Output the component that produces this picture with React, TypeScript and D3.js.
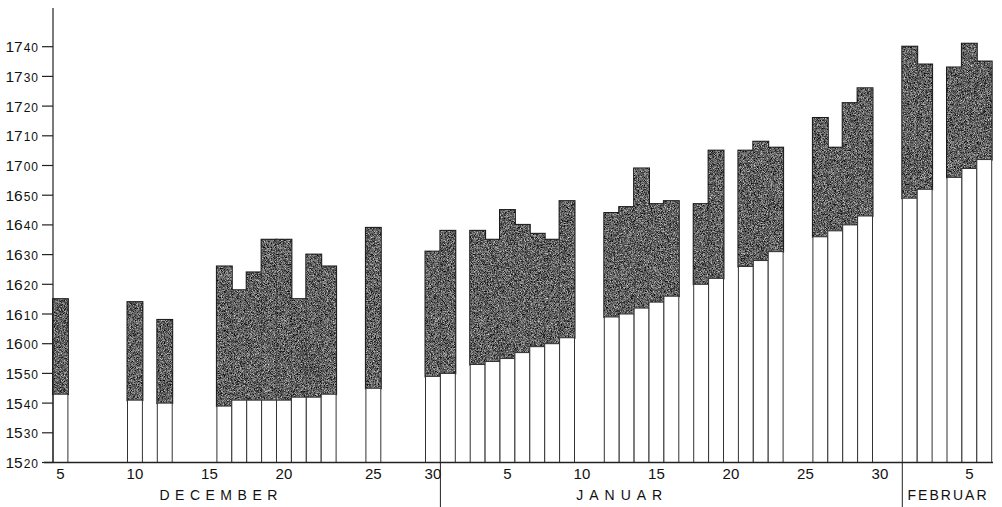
import React, { useEffect, useRef } from 'react';
import * as d3 from 'd3';

// slot 0 = 5 December, one slot per day as drawn in the original
const dayIndex = [0, 5, 7, 11, 12, 13, 14, 15, 16, 17, 18, 21, 25, 26, 28, 29, 30, 31, 32, 33, 34, 37, 38, 39, 40, 41, 43, 44, 46, 47, 48, 51, 52, 53, 54, 57, 58, 60, 61, 62];

const lowerTime = ['15:43', '15:41', '15:40', '15:39', '15:41', '15:41', '15:41', '15:41', '15:42', '15:42', '15:43', '15:45', '15:49', '15:50', '15:53', '15:54', '15:55', '15:57', '15:59', '16:00', '16:02', '16:09', '16:10', '16:12', '16:14', '16:16', '16:20', '16:22', '16:26', '16:28', '16:31', '16:36', '16:38', '16:40', '16:43', '16:49', '16:52', '16:56', '16:59', '17:02'];

const upperTime = ['16:15', '16:14', '16:08', '16:26', '16:18', '16:24', '16:35', '16:35', '16:15', '16:30', '16:26', '16:39', '16:31', '16:38', '16:38', '16:35', '16:45', '16:40', '16:37', '16:35', '16:48', '16:44', '16:46', '16:59', '16:47', '16:48', '16:47', '17:05', '17:05', '17:08', '17:06', '17:16', '17:06', '17:21', '17:26', '17:40', '17:34', '17:33', '17:41', '17:35'];

const yTicks = ['15:20', '15:30', '15:40', '15:50', '16:00', '16:10', '16:20', '16:30', '16:40', '16:50', '17:00', '17:10', '17:20', '17:30', '17:40'];

const dayTickLabels = ['5', '10', '15', '20', '25', '30', '5', '10', '15', '20', '25', '30', '5'];
const dayTickSlots = [0, 5, 10, 15, 21, 25, 30, 35, 40, 45, 50, 55, 61];

const monthLabels = ['DECEMBER', 'JANUAR', 'FEBRUAR'];
const monthCenters = [11.1, 38.0, 60.0];
const monthBreaks = [26, 57];

const toMin = (t: string) => {
  const [h, m] = t.split(':').map(Number);
  return h * 60 + m;
};

const App: React.FC = () => {
  const svgRef = useRef<SVGSVGElement>(null);
  const width = 1002;
  const height = 507;

  useEffect(() => {
    if (!svgRef.current) return;
    const svg = d3.select(svgRef.current);
    svg.selectAll('*').remove();

    const x = d3.scaleLinear().domain([0, 63]).range([53, 991.7]);
    const y = d3.scaleLinear().domain([toMin('15:20'), toMin('17:40')]).range([462.5, 46.7]);
    const w = x(1) - x(0);

    const bars = dayIndex.map((d, i) => ({ d, lo: toMin(lowerTime[i]), hi: toMin(upperTime[i]) }));

    // grainy gray fill for the dark part (printed stipple)
    const defs = svg.append('defs');
    const f = defs.append('filter').attr('id', 'grain')
      .attr('filterUnits', 'userSpaceOnUse')
      .attr('color-interpolation-filters', 'sRGB')
      .attr('x', 0).attr('y', 0).attr('width', width).attr('height', height);
    f.append('feTurbulence').attr('type', 'fractalNoise').attr('baseFrequency', 1.3)
      .attr('numOctaves', 2).attr('seed', 5).attr('result', 'noise');
    f.append('feColorMatrix').attr('in', 'noise').attr('type', 'matrix')
      .attr('values', '1.3 0 0 0 -0.27  1.3 0 0 0 -0.27  1.3 0 0 0 -0.27  0 0 0 0 1').attr('result', 'gray');
    f.append('feComposite').attr('in', 'gray').attr('in2', 'SourceGraphic').attr('operator', 'in');

    // dark outline (outer half stays visible), then fill on top
    svg.append('g').selectAll('rect').data(bars).enter().append('rect')
      .attr('x', d => x(d.d)).attr('width', w)
      .attr('y', d => y(d.hi)).attr('height', d => y(d.lo) - y(d.hi))
      .attr('fill', '#222').attr('stroke', '#1a1a1a').attr('stroke-width', 2);

    svg.append('g').attr('filter', 'url(#grain)').selectAll('rect').data(bars).enter().append('rect')
      .attr('x', d => x(d.d)).attr('width', w)
      .attr('y', d => y(d.hi)).attr('height', d => y(d.lo) - y(d.hi))
      .attr('fill', '#555');

    // white part
    svg.append('g').selectAll('rect').data(bars).enter().append('rect')
      .attr('x', d => x(d.d)).attr('width', w)
      .attr('y', d => y(d.lo)).attr('height', d => y(toMin('15:20')) - y(d.lo))
      .attr('fill', '#fff').attr('stroke', '#333').attr('stroke-width', 1);

    // axes
    const y0 = y(toMin('15:20'));
    svg.append('line').attr('x1', 44).attr('x2', 993).attr('y1', y0).attr('y2', y0)
      .attr('stroke', '#222').attr('stroke-width', 1.5);
    svg.append('line').attr('x1', x(0)).attr('x2', x(0)).attr('y1', 8).attr('y2', y0)
      .attr('stroke', '#222').attr('stroke-width', 1.2);

    const yt = svg.append('g');
    yTicks.forEach(t => {
      const ty = y(toMin(t));
      yt.append('line').attr('x1', 42).attr('x2', x(0)).attr('y1', ty).attr('y2', ty)
        .attr('stroke', '#222').attr('stroke-width', 1.2);
      const [hh, mm] = t.split(':');
      const txt = yt.append('text').attr('x', 39).attr('y', ty + 5.5).attr('text-anchor', 'end')
        .attr('font-family', 'Liberation Sans, Arial, sans-serif').attr('fill', '#111');
      txt.append('tspan').attr('font-size', 15.5).text(hh);
      txt.append('tspan').attr('font-size', 12).attr('dx', 1).attr('letter-spacing', 1).text(mm);
    });

    svg.append('g').selectAll('text').data(dayTickLabels).enter().append('text')
      .attr('x', (d, i) => x(dayTickSlots[i] + 0.5)).attr('y', 478.5)
      .attr('text-anchor', 'middle')
      .attr('font-family', 'Liberation Sans, Arial, sans-serif').attr('font-size', 15)
      .attr('fill', '#111').text(d => d);

    const lens = [118, 86, 79];
    svg.append('g').selectAll('text').data(monthLabels).enter().append('text')
      .attr('x', (d, i) => x(monthCenters[i]) - lens[i] / 2).attr('y', 500)
      .attr('textLength', (d, i) => lens[i]).attr('lengthAdjust', 'spacing')
      .attr('font-family', 'Liberation Sans, Arial, sans-serif').attr('font-size', 14)
      .attr('fill', '#111').text(d => d);

    svg.append('g').selectAll('line').data(monthBreaks).enter().append('line')
      .attr('x1', d => x(d)).attr('x2', d => x(d)).attr('y1', y0).attr('y2', height)
      .attr('stroke', '#222').attr('stroke-width', 1);
  }, []);

  return (
    <svg
      ref={svgRef}
      width={width}
      height={height}
      style={{ position: 'absolute', left: 0, top: 0, background: '#fff' }}
    />
  );
};

export default App;
